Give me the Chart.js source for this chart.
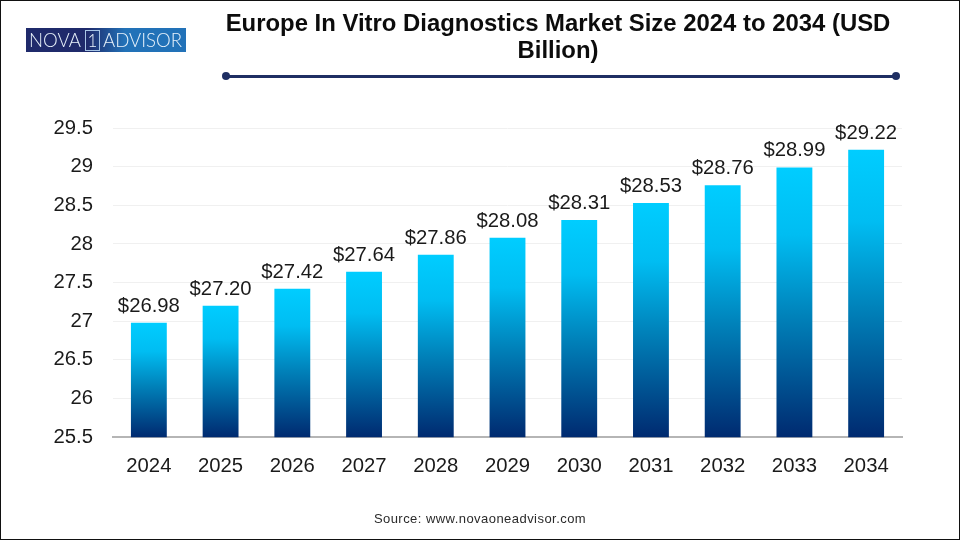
<!DOCTYPE html>
<html>
<head>
<meta charset="utf-8">
<style>
html,body{margin:0;padding:0;background:#fff;width:960px;height:540px;overflow:hidden;font-family:"Liberation Sans",Arial,sans-serif}
#frame{position:absolute;left:0;top:0;width:960px;height:540px;box-sizing:border-box;border:1px solid #111;pointer-events:none}
#c{position:absolute;left:0;top:0}
#title{position:absolute;left:158px;top:9px;width:800px;text-align:center;font-weight:bold;font-size:23.9px;line-height:27px;color:#0c0c0c}
#rule{position:absolute;left:226px;top:74.5px;width:670px;height:3px;background:#1f2f63}
.dot{position:absolute;top:72px;width:8px;height:8px;border-radius:50%;background:#1f2f63}
#logo{position:absolute;left:26px;top:28px;width:160px;height:24px;background:linear-gradient(90deg,#1f2a6b 0%,#1f2a6b 38%,#2272b8 62%,#2272b8 100%);color:#e8f2fb;font-family:Lato,"Liberation Sans",sans-serif;font-weight:300;font-size:18.6px;line-height:24px;white-space:nowrap}
#logo span{position:absolute;top:0}
#one{position:absolute;left:59px;top:2px;width:13px;height:19px;border:1px solid #a9c6e6;line-height:19px;text-align:center;font-size:17px}
#source{position:absolute;left:0;width:960px;top:511px;text-align:center;font-size:13px;letter-spacing:.45px;color:#2a2a2a}
</style>
<script src="https://cdn.jsdelivr.net/npm/chart.js@4"></script>
</head>
<body>
<canvas id="c" width="960" height="540"></canvas>
<div id="title">Europe In Vitro Diagnostics Market Size 2024 to 2034 (USD<br>Billion)</div>
<div id="rule"></div><div class="dot" style="left:222px"></div><div class="dot" style="left:892px"></div>
<div id="logo"><span style="left:3px">NOVA</span><div id="one">1</div><span style="left:77px">ADVISOR</span></div>
<div id="source">Source: www.novaoneadvisor.com</div>
<div id="frame"></div>
<script>
const categories = ["2024","2025","2026","2027","2028","2029","2030","2031","2032","2033","2034"];
const marketSize = [26.98,27.20,27.42,27.64,27.86,28.08,28.31,28.53,28.76,28.99,29.22];
const valueLabels = ["$26.98","$27.20","$27.42","$27.64","$27.86","$28.08","$28.31","$28.53","$28.76","$28.99","$29.22"];
const yTickLabels = ["25.5","26","26.5","27","27.5","28","28.5","29","29.5"];

const FONT = '"Liberation Sans", Arial, sans-serif';
function barGradient(ctx){
  const chart = ctx.chart;
  if(!chart.chartArea || ctx.parsed === undefined) return '#00ccff';
  const y = chart.scales.y;
  const top = y.getPixelForValue(ctx.parsed.y), bot = y.getPixelForValue(25.5);
  const g = chart.ctx.createLinearGradient(0, top, 0, bot);
  g.addColorStop(0,'#00cdff');
  g.addColorStop(0.25,'#00bdf2');
  g.addColorStop(0.55,'#0082ba');
  g.addColorStop(1,'#002a70');
  return g;
}
const labelPlugin = {
  id:'valueLabels',
  afterDatasetsDraw(chart){
    const c = chart.ctx, meta = chart.getDatasetMeta(0);
    c.save();
    c.font = '20.3px '+FONT; c.fillStyle='#1a1a1a'; c.textAlign='center'; c.textBaseline='alphabetic';
    meta.data.forEach((el,i)=>{ c.fillText(valueLabels[i], el.x, el.y-11); });
    c.restore();
  }
};
new Chart(document.getElementById('c'),{
  type:'bar',
  data:{labels:categories,datasets:[{data:marketSize,backgroundColor:barGradient,categoryPercentage:1,barPercentage:0.5,borderWidth:0}]},
  options:{
    responsive:false,animation:false,devicePixelRatio:1,
    layout:{padding:{left:0,right:58,top:128,bottom:44.5}},
    plugins:{legend:{display:false},title:{display:false},tooltip:{enabled:false}},
    scales:{
      x:{
        grid:{display:false,drawTicks:false},
        border:{display:true,color:'#b5b5b5',width:2},
        ticks:{font:{family:FONT,size:20.3},color:'#1a1a1a',padding:17,maxRotation:0}
      },
      y:{
        min:25.5,max:29.5,
        afterFit(s){s.width=113;},
        afterBuildTicks(s){s.ticks=yTickLabels.map(v=>({value:parseFloat(v)}));},
        grid:{color:'#f0f0f0',lineWidth:1,drawTicks:false},
        border:{display:false},
        ticks:{font:{family:FONT,size:20.3},color:'#1a1a1a',padding:20,
          callback:(v)=>yTickLabels.find(t=>parseFloat(t)===v)}
      }
    }
  },
  plugins:[labelPlugin]
});
</script>
</body>
</html>
